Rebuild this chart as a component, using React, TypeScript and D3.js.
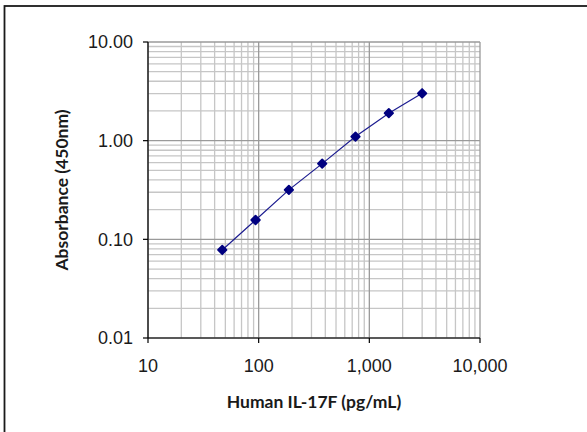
import React from "react";
import * as d3 from "d3";

const concentrations = [46.875, 93.75, 187.5, 375, 750, 1500, 3000];
const absorbance = [0.078, 0.157, 0.317, 0.585, 1.1, 1.9, 3.02];
const xTicks = [10, 100, 1000, 10000];
const yTicks = [0.01, 0.1, 1, 10];
const xTitle = "Human IL-17F (pg/mL)";
const yTitle = "Absorbance (450nm)";

const W = 587;
const H = 432;
const left = 148, right = 480, top = 42, bottom = 338;

function minorValues(lo: number, hi: number) {
  const out: number[] = [];
  for (let d = lo; d < hi; d *= 10) {
    for (let k = 2; k <= 9; k++) out.push(d * k);
  }
  return out;
}

export default function App() {
  const x = d3.scaleLog().domain([10, 10000]).range([left, right]);
  const y = d3.scaleLog().domain([0.01, 10]).range([bottom, top]);
  const pts = concentrations.map((c, i) => [x(c), y(absorbance[i])] as [number, number]);
  const line = d3.line()(pts) || "";
  const diamond = d3.symbol().type(d3.symbolDiamond2).size(46)() || "";
  const xMinor = minorValues(10, 10000);
  const yMinor = minorValues(0.01, 10);
  const fmtX = d3.format(",");
  const tickFont = "'Liberation Sans', Arial, sans-serif";
  const titleFont = "Lato, 'Open Sans', sans-serif";
  return (
    <svg width={W} height={H} style={{ position: "absolute", left: 0, top: 0, background: "#fff" }}>
      <rect x={0} y={0} width={W} height={H} fill="#fff" />
      <rect x={4.5} y={6} width={W + 20} height={H + 20} fill="none" stroke="#1a1a1a" strokeWidth={1.8} />
      {xMinor.map((v) => (
        <line key={"xm" + v} x1={x(v)} x2={x(v)} y1={top} y2={bottom} stroke="#c6c6c6" strokeWidth={1.3} />
      ))}
      {yMinor.map((v) => (
        <line key={"ym" + v} x1={left} x2={right} y1={y(v)} y2={y(v)} stroke="#c6c6c6" strokeWidth={1.3} />
      ))}
      {xTicks.map((v) => (
        <line key={"xM" + v} x1={x(v)} x2={x(v)} y1={top} y2={bottom} stroke="#9a9a9a" strokeWidth={1.3} />
      ))}
      {yTicks.map((v) => (
        <line key={"yM" + v} x1={left} x2={right} y1={y(v)} y2={y(v)} stroke="#9a9a9a" strokeWidth={1.3} />
      ))}
      <line x1={left} x2={left} y1={top} y2={bottom} stroke="#000" strokeWidth={1.2} />
      <line x1={left} x2={right} y1={bottom} y2={bottom} stroke="#000" strokeWidth={1.2} />
      {yTicks.map((v) => (
        <g key={"yt" + v}>
          <line x1={left - 5} x2={left} y1={y(v)} y2={y(v)} stroke="#000" strokeWidth={1.2} />
          <text x={left - 15} y={y(v)} dy="0.36em" textAnchor="end" fontFamily={tickFont} fontSize={18} fill="#1a1a1a">
            {v.toFixed(2)}
          </text>
        </g>
      ))}
      {xTicks.map((v) => (
        <g key={"xt" + v}>
          <line x1={x(v)} x2={x(v)} y1={bottom} y2={bottom + 5} stroke="#000" strokeWidth={1.2} />
          <text x={x(v)} y={bottom + 34} textAnchor="middle" fontFamily={tickFont} fontSize={18} fill="#1a1a1a">
            {fmtX(v)}
          </text>
        </g>
      ))}
      <path d={line} fill="none" stroke="#1c1c90" strokeWidth={1.2} />
      {pts.map((p, i) => (
        <path key={"p" + i} d={diamond} transform={`translate(${p[0]},${p[1]})`} fill="#000080" stroke="#000080" strokeWidth={1.8} strokeLinejoin="round" />
      ))}
      <text x={314} y={408} textAnchor="middle" fontFamily={titleFont} fontWeight="bold" fontSize={17.5} fill="#1a1a1a">
        {xTitle}
      </text>
      <text transform={`translate(68,190) rotate(-90)`} textAnchor="middle" fontFamily={titleFont} fontWeight="bold" fontSize={17.5} fill="#1a1a1a">
        {yTitle}
      </text>
    </svg>
  );
}
